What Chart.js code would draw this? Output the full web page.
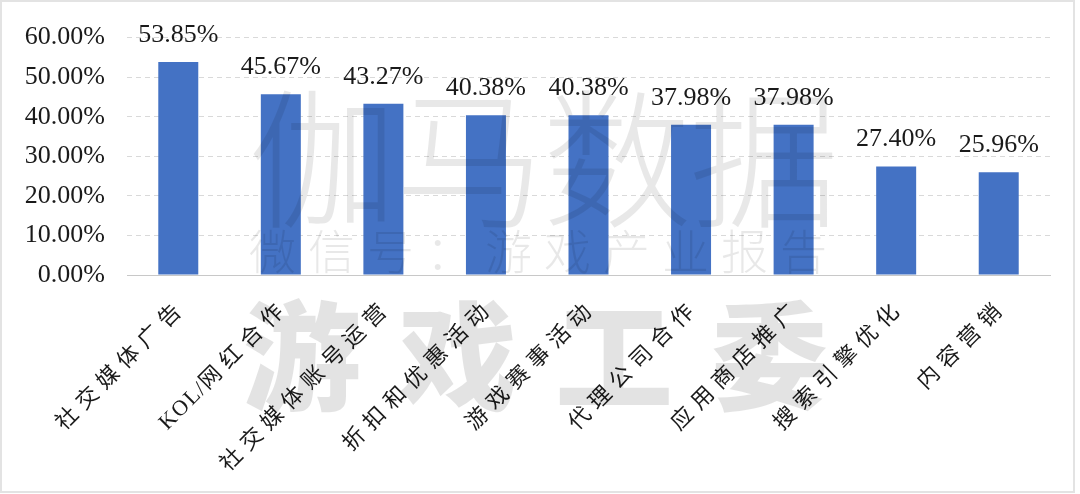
<!DOCTYPE html>
<html>
<head>
<meta charset="utf-8">
<script src="https://cdn.jsdelivr.net/npm/chart.js@4/dist/chart.umd.min.js"></script>
<style>
  html, body { margin: 0; padding: 0; background: #fff; }
  #wrap { position: relative; width: 1080px; height: 494px; overflow: hidden; }
  #frame { position: absolute; left: 0; top: 0; width: 1075px; height: 493px; box-sizing: border-box; border: 2px solid #e3e3e3; pointer-events: none; }
  #chart { position: absolute; left: 0; top: 0; }
  .wm { position: absolute; white-space: nowrap; line-height: 1; font-family: "Noto Sans CJK SC", sans-serif; color: rgba(0, 0, 0, 0.09); pointer-events: none; }
</style>
</head>
<body>
<div id="wrap">
  <canvas id="chart" width="1080" height="494"></canvas>
  <div class="wm" style="left:248px; top:76px; font-size:150px; font-weight:300; letter-spacing:-3px;">伽马数据</div>
  <div class="wm" style="left:249px; top:225px; font-size:47px; font-weight:300; letter-spacing:12px;">微信号：游戏产业报告</div>
  <div class="wm" style="left:243px; top:291px; font-size:118px; font-weight:900; letter-spacing:38px; color: rgba(0, 0, 0, 0.11);">游戏工委</div>
  <div id="frame"></div>
</div>
<script>
// Chart data
const categories = ['社交媒体广告', 'KOL/网红合作', '社交媒体账号运营', '折扣和优惠活动', '游戏赛事活动', '代理公司合作', '应用商店推广', '搜索引擎优化', '内容营销'];
const shares = [53.85, 45.67, 43.27, 40.38, 40.38, 37.98, 37.98, 27.40, 25.96];
const yTicks = [0, 10, 20, 30, 40, 50, 60];

const FONT = '"Liberation Serif", "Noto Sans CJK SC", serif';

// Value labels above bars + spaced, rotated category labels
const labelPlugin = {
    id: 'labelPlugin',
    afterDatasetsDraw(chart) {
        const ctx = chart.ctx;
        const meta = chart.getDatasetMeta(0);
        ctx.save();
        ctx.font = '26px ' + FONT;
        ctx.fillStyle = '#1a1a1a';
        ctx.textAlign = 'center';
        ctx.textBaseline = 'bottom';
        meta.data.forEach((bar, i) => {
            ctx.fillText(shares[i].toFixed(2) + '%', bar.x, bar.y - 14);
        });
        ctx.restore();

        // category labels at 45 degrees; CJK characters get wider spacing
        const xScale = chart.scales.x;
        ctx.save();
        ctx.font = '22px ' + FONT;
        ctx.fillStyle = '#1a1a1a';
        ctx.textAlign = 'left';
        ctx.textBaseline = 'middle';
        categories.forEach((label, i) => {
            const chars = Array.from(label);
            const gaps = chars.map(c => (/[\u3000-\u9fff]/.test(c) ? 7 : 1.5));
            const widths = chars.map(c => ctx.measureText(c).width);
            let total = 0;
            chars.forEach((c, k) => { total += widths[k] + (k < chars.length - 1 ? gaps[k] : 0); });
            ctx.save();
            ctx.translate(xScale.getPixelForTick(i), xScale.top + 34);
            ctx.rotate(-Math.PI / 4);
            let pos = -total;
            chars.forEach((c, k) => {
                ctx.fillText(c, pos, 0);
                pos += widths[k] + gaps[k];
            });
            ctx.restore();
        });
        ctx.restore();
    }
};

const ctx = document.getElementById('chart').getContext('2d');
new Chart(ctx, {
    type: 'bar',
    data: {
        labels: categories,
        datasets: [{
            data: shares,
            backgroundColor: '#4472C4',
            borderWidth: 0,
            categoryPercentage: 1,
            barPercentage: 0.39
        }]
    },
    options: {
        responsive: false,
        animation: false,
        layout: { padding: { top: 37, right: 30, left: 0, bottom: 0 } },
        plugins: {
            legend: { display: false },
            tooltip: { enabled: false }
        },
        scales: {
            x: {
                grid: { display: false },
                border: { display: true, color: '#c8c8c8', width: 1 },
                ticks: { display: false },
                afterFit: s => { s.height = 219; }
            },
            y: {
                min: 0,
                max: 60,
                afterBuildTicks: s => { s.ticks = yTicks.map(v => ({ value: v })); },
                grid: { color: '#d9d9d9', drawTicks: false },
                border: { display: false, dash: [5, 4] },
                ticks: {
                    color: '#1a1a1a',
                    font: { family: FONT, size: 26 },
                    padding: 22,
                    callback: v => v.toFixed(2) + '%'
                },
                afterFit: s => { s.width = 127; }
            }
        }
    },
    plugins: [labelPlugin]
});
</script>
</body>
</html>
